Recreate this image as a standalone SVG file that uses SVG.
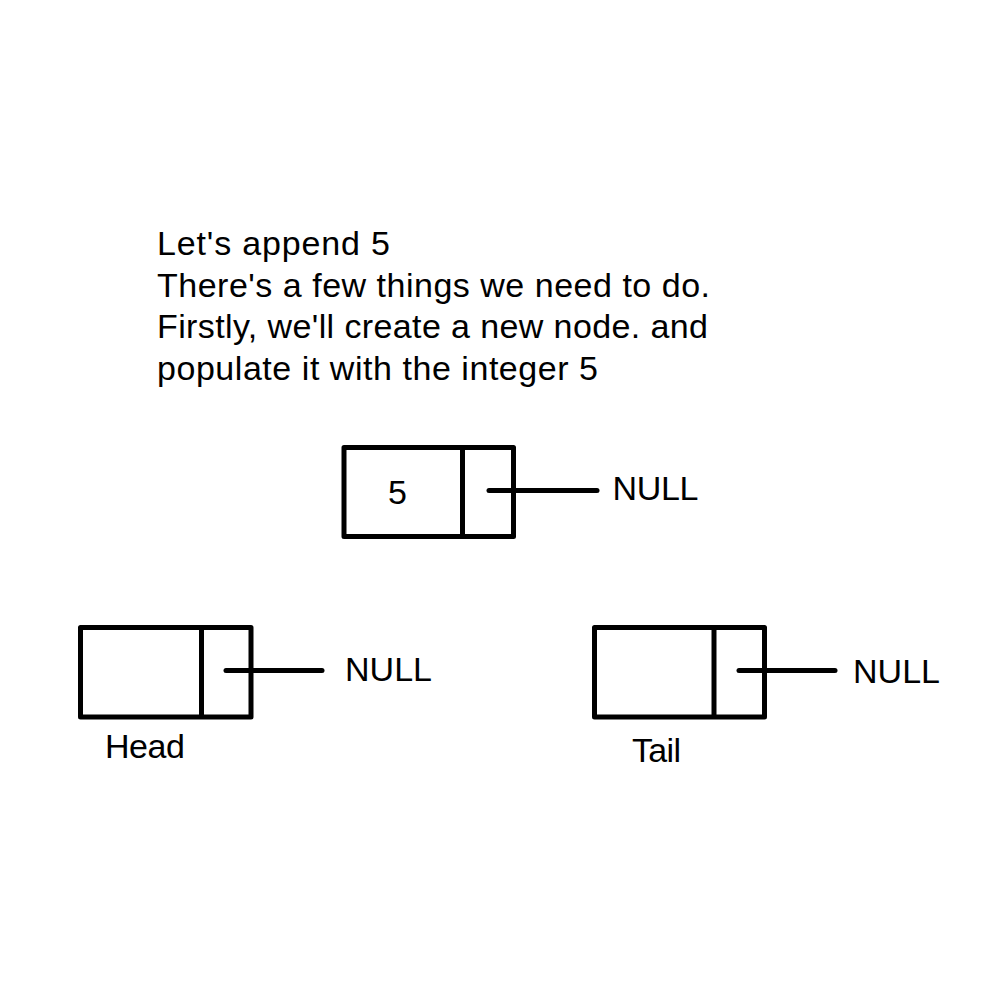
<svg xmlns="http://www.w3.org/2000/svg" width="1000" height="1000" viewBox="0 0 1000 1000">
<style>
.box{fill:none;stroke:#000;stroke-width:5;stroke-linejoin:round}
.div{stroke:#000;stroke-width:5}
.ptr{stroke:#000;stroke-width:5;stroke-linecap:round}
text{font-family:"Liberation Sans",Arial,Helvetica,sans-serif;font-size:34px;fill:#000}
</style>
<rect width="1000" height="1000" fill="#fff"/>
<g id="caption">
<text x="157" y="255" textLength="233" lengthAdjust="spacing">Let's append 5</text>
<text x="157" y="296.5" textLength="553" lengthAdjust="spacing">There's a few things we need to do.</text>
<text x="157" y="338" textLength="551" lengthAdjust="spacing">Firstly, we'll create a new node. and</text>
<text x="157" y="379.5" textLength="441" lengthAdjust="spacing">populate it with the integer 5</text>
</g>
<g id="node-new">
<rect class="box" x="344" y="447.5" width="169.5" height="89"/>
<line class="div" x1="462.5" y1="447.5" x2="462.5" y2="536.5"/>
<text x="397.5" y="503.5" text-anchor="middle">5</text>
</g>
<g id="node-head">
<rect class="box" x="80.5" y="627.5" width="170.5" height="89.5"/>
<line class="div" x1="201.5" y1="627.5" x2="201.5" y2="717"/>
<text x="105" y="758" textLength="80" lengthAdjust="spacing">Head</text>
</g>
<g id="node-tail">
<rect class="box" x="594.5" y="627.5" width="170" height="89.5"/>
<line class="div" x1="714" y1="627.5" x2="714" y2="717"/>
<text x="632" y="762" textLength="49" lengthAdjust="spacing">Tail</text>
</g>
<g id="null-new"><text x="612.5" y="500" textLength="86" lengthAdjust="spacing">NULL</text></g>
<g id="null-head"><text x="345" y="681" textLength="87" lengthAdjust="spacing">NULL</text></g>
<g id="null-tail"><text x="853" y="683" textLength="87" lengthAdjust="spacing">NULL</text></g>
<g id="connectors">
<line class="ptr" x1="489" y1="490.5" x2="597" y2="490.5"/>
<line class="ptr" x1="226" y1="670.5" x2="322" y2="670.5"/>
<line class="ptr" x1="739" y1="670.5" x2="835" y2="670.5"/>
</g>
</svg>
